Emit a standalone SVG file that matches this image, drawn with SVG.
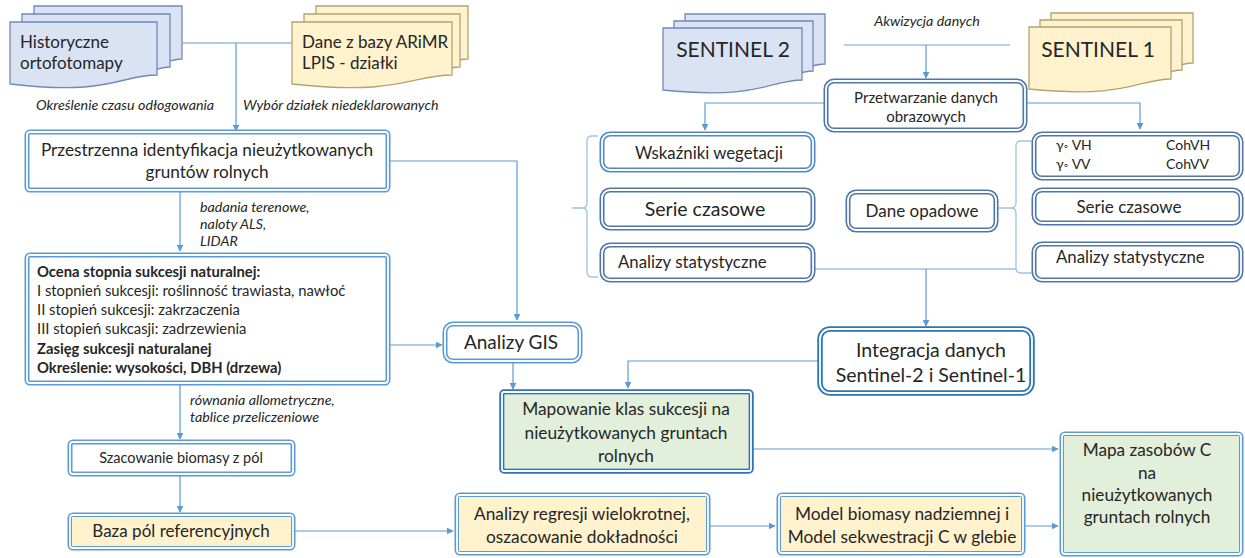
<svg xmlns="http://www.w3.org/2000/svg" width="1245" height="558" viewBox="0 0 1245 558">
<defs>
<marker id="arr" viewBox="0 0 10 10" refX="9" refY="5" markerWidth="7" markerHeight="7" markerUnits="userSpaceOnUse" orient="auto">
<path d="M0,0 L10,5 L0,10 Z" fill="#5b9bd5"/>
</marker>
<style>
text{font-family:Lato,"Liberation Sans",sans-serif;fill:#262626}
.it{font-style:italic;font-size:14.3px}
.c{text-anchor:middle}
.b{font-weight:bold}
.o1{fill:#fff;stroke:#5b9bd5;stroke-width:5}
.o2{fill:#fff;stroke:#4f76a8;stroke-width:5}
.o3{fill:#fff;stroke:#2e75b6;stroke-width:5.5}
.in{fill:none;stroke:#fff;stroke-width:1.8}
.con{fill:none;stroke:#5b9bd5;stroke-width:1.2}
.br{fill:none;stroke:#9dc3e6;stroke-width:1.3}
.dB{fill:#dae3f3;stroke:#7088bb;stroke-width:1.3}
.dY{fill:#fff2cc;stroke:#b3a370;stroke-width:1.3}
</style>
</defs>

<g id="connectors">
<path class="con" d="M183,43 H292"/>
<path class="con" d="M236,43 V131" marker-end="url(#arr)"/>
<path class="con" d="M180,192 V251" marker-end="url(#arr)"/>
<path class="con" d="M390,161 H517 V320" marker-end="url(#arr)"/>
<path class="con" d="M390,345 H442" marker-end="url(#arr)"/>
<path class="con" d="M513,363 V389" marker-end="url(#arr)"/>
<path class="con" d="M180,385 V439" marker-end="url(#arr)"/>
<path class="con" d="M180,476 V512" marker-end="url(#arr)"/>
<path class="con" d="M295,531 H453" marker-end="url(#arr)"/>
<path class="con" d="M710,526 H775" marker-end="url(#arr)"/>
<path class="con" d="M1025,526 H1058" marker-end="url(#arr)"/>
<path class="con" d="M753,449 H1058" marker-end="url(#arr)"/>
<path class="con" d="M818,361 H628 V388" marker-end="url(#arr)"/>
<path class="br" d="M844,45 H1010"/>
<path class="con" d="M926,45 V78" marker-end="url(#arr)"/>
<path class="con" d="M824,103 H705 V130" marker-end="url(#arr)"/>
<path class="con" d="M1027,103 H1140 V129" marker-end="url(#arr)"/>
<path class="br" d="M815,269 H1016"/>
<path class="con" d="M926,269 V326" marker-end="url(#arr)"/>
<path class="br" d="M598,136 H592 Q587,136 587,141 V203 Q587,208 582,208 H572 M582,208 Q587,208 587,213 V272 Q587,277 592,277 H598"/>
<path class="br" d="M1032,141 H1021 Q1016,141 1016,146 V203 Q1016,208 1011,208 H997 M1011,208 Q1016,208 1016,213 V268 Q1016,273 1021,273 H1032"/>
</g>

<g id="hist">
<path class="dB" d="M34,6 H182 V59 C158,59 158,79 34,71 Z"/>
<path class="dB" d="M22,14 H170 V67 C146,67 146,87 22,79 Z"/>
<path class="dB" d="M10,22 H157 V75 C120,75 110,96 10,84 Z"/>
<text x="20" y="48" font-size="17">Historyczne</text>
<text x="20" y="69" font-size="17">ortofotomapy</text>
</g>

<g id="arimr">
<path class="dY" d="M316,6 H468 V59 C440,59 440,79 316,71 Z"/>
<path class="dY" d="M304,14 H460 V67 C432,67 432,87 304,79 Z"/>
<path class="dY" d="M292,22 H452 V75 C412,75 400,96 292,84 Z"/>
<text x="302" y="48" font-size="17">Dane z bazy ARiMR</text>
<text x="302" y="69" font-size="17">LPIS - działki</text>
</g>

<g id="s2">
<path class="dB" d="M685,14 H825 V64 C800,64 800,84 685,76 Z"/>
<path class="dB" d="M674,21 H813 V71 C788,71 788,91 674,83 Z"/>
<path class="dB" d="M663,28 H802 V80 C770,80 760,100 663,90 Z"/>
<text class="c" x="733" y="57" font-size="21">SENTINEL 2</text>
</g>

<g id="s1">
<path class="dY" d="M1051,13 H1193 V63 C1168,63 1168,83 1051,75 Z"/>
<path class="dY" d="M1040,20 H1182 V70 C1157,70 1157,90 1040,82 Z"/>
<path class="dY" d="M1029,27 H1171 V79 C1138,79 1128,99 1029,89 Z"/>
<text class="c" x="1098" y="57" font-size="21">SENTINEL 1</text>
</g>

<g id="labels">
<text class="it" x="36" y="110">Określenie czasu odłogowania</text>
<text class="it" x="243" y="110">Wybór działek niedeklarowanych</text>
<text class="it c" x="927" y="26" font-size="15.5">Akwizycja danych</text>
<text class="it" x="200" y="212">badania terenowe,</text>
<text class="it" x="200" y="229">naloty ALS,</text>
<text class="it" x="200" y="246">LIDAR</text>
<text class="it" x="190" y="405">równania allometryczne,</text>
<text class="it" x="190" y="422">tablice przeliczeniowe</text>
</g>

<g id="przestrzenna">
<rect class="o1" x="27" y="132" width="361" height="58" rx="3"/>
<rect class="in" x="27" y="132" width="361" height="58" rx="3"/>
<text class="c" x="207" y="156" font-size="17.2">Przestrzenna identyfikacja nieużytkowanych</text>
<text class="c" x="207" y="178" font-size="17.2">gruntów rolnych</text>
</g>

<g id="ocena">
<rect class="o1" x="27" y="255" width="361" height="128" rx="3"/>
<rect class="in" x="27" y="255" width="361" height="128" rx="3"/>
<text x="37" y="277" font-size="14.8" class="b">Ocena stopnia sukcesji naturalnej:</text>
<text x="37" y="296" font-size="14.8">I stopnień sukcesji: roślinność trawiasta, nawłoć</text>
<text x="37" y="315" font-size="14.8">II stopień sukcesji: zakrzaczenia</text>
<text x="37" y="334" font-size="14.8">III stopień sukcasji: zadrzewienia</text>
<text x="37" y="354" font-size="14.8" class="b">Zasięg sukcesji naturalanej</text>
<text x="37" y="373" font-size="14.8" class="b">Określenie: wysokości, DBH (drzewa)</text>
</g>

<g id="szacowanie">
<rect class="o1" x="70" y="442" width="223" height="32" rx="3"/>
<rect class="in" x="70" y="442" width="223" height="32" rx="3"/>
<text class="c" x="181" y="463" font-size="14.5">Szacowanie biomasy z pól</text>
</g>

<g id="baza">
<rect class="o1" x="70" y="515" width="223" height="33" rx="3"/>
<rect x="72" y="517" width="219" height="29" fill="#fff2cc"/>
<rect class="in" x="70" y="515" width="223" height="33" rx="3"/>
<text class="c" x="181" y="537" font-size="17">Baza pól referencyjnych</text>
</g>

<g id="gis">
<rect class="o1" x="445" y="324" width="135" height="37" rx="8"/>
<rect class="in" x="445" y="324" width="135" height="37" rx="8"/>
<text class="c" x="511" y="349" font-size="19">Analizy GIS</text>
</g>

<g id="mapowanie">
<rect class="o3" x="502" y="392" width="249" height="79" rx="2"/>
<rect x="504.5" y="394.5" width="244" height="74" fill="#e2efda"/>
<rect class="in" x="502" y="392" width="249" height="79" rx="2"/>
<text class="c" x="626" y="415" font-size="17.3">Mapowanie klas sukcesji na</text>
<text class="c" x="626" y="439" font-size="17.3">nieużytkowanych gruntach</text>
<text class="c" x="626" y="462" font-size="17.3">rolnych</text>
</g>

<g id="integracja">
<rect class="o3" x="820" y="329" width="212" height="64" rx="10"/>
<rect class="in" x="820" y="329" width="212" height="64" rx="10"/>
<text class="c" x="931" y="357" font-size="19.5">Integracja danych</text>
<text class="c" x="931" y="382" font-size="19.5">Sentinel-2 i Sentinel-1</text>
</g>

<g id="przetwarzanie">
<rect class="o2" x="826" y="81" width="199" height="49" rx="8"/>
<rect class="in" x="826" y="81" width="199" height="49" rx="8"/>
<text class="c" x="926" y="103" font-size="15">Przetwarzanie danych</text>
<text class="c" x="926" y="122" font-size="15">obrazowych</text>
</g>

<g id="wskazniki">
<rect class="o1" x="602" y="134" width="211" height="36" rx="8" style="stroke:#4f88c6"/>
<rect class="in" x="602" y="134" width="211" height="36" rx="8"/>
<text class="c" x="709" y="159" font-size="16.8">Wskaźniki wegetacji</text>
</g>

<g id="serieL">
<rect class="o2" x="602" y="190" width="211" height="38" rx="8"/>
<rect class="in" x="602" y="190" width="211" height="38" rx="8"/>
<text class="c" x="705" y="216" font-size="19.5">Serie czasowe</text>
</g>

<g id="analizyL">
<rect class="o2" x="602" y="245" width="211" height="35" rx="8"/>
<rect class="in" x="602" y="245" width="211" height="35" rx="8"/>
<text x="618" y="268" font-size="16.8">Analizy statystyczne</text>
</g>

<g id="opady">
<rect class="o2" x="848" y="192" width="148" height="38" rx="8"/>
<rect class="in" x="848" y="192" width="148" height="38" rx="8"/>
<text class="c" x="922" y="217" font-size="17">Dane opadowe</text>
</g>

<g id="gamma">
<rect class="o2" x="1034" y="134" width="207" height="44" rx="8"/>
<rect class="in" x="1034" y="134" width="207" height="44" rx="8"/>
<text x="1056" y="150" font-size="14">γ<tspan font-size="11">◦</tspan> VH</text>
<text x="1056" y="169" font-size="14">γ<tspan font-size="11">◦</tspan> VV</text>
<text x="1166" y="150" font-size="14">CohVH</text>
<text x="1166" y="169" font-size="14">CohVV</text>
</g>

<g id="serieR">
<rect class="o2" x="1034" y="190" width="207" height="33" rx="8"/>
<rect class="in" x="1034" y="190" width="207" height="33" rx="8"/>
<text class="c" x="1129" y="213" font-size="17">Serie czasowe</text>
</g>

<g id="analizyR">
<rect class="o2" x="1034" y="244" width="207" height="36" rx="8"/>
<rect class="in" x="1034" y="244" width="207" height="36" rx="8"/>
<text x="1056" y="263" font-size="16.8">Analizy statystyczne</text>
</g>

<g id="regresja">
<rect class="o1" x="457" y="495" width="251" height="58" rx="3"/>
<rect x="459" y="497" width="247" height="54" fill="#fff2cc"/>
<rect class="in" x="457" y="495" width="251" height="58" rx="3"/>
<text class="c" x="582" y="520" font-size="17.3">Analizy regresji wielokrotnej,</text>
<text class="c" x="582" y="543" font-size="17.3">oszacowanie dokładności</text>
</g>

<g id="model">
<rect class="o1" x="779" y="495" width="244" height="58" rx="3"/>
<rect x="781" y="497" width="240" height="54" fill="#fff2cc"/>
<rect class="in" x="779" y="495" width="244" height="58" rx="3"/>
<text class="c" x="902" y="520" font-size="17.3">Model biomasy nadziemnej i</text>
<text class="c" x="902" y="543" font-size="17.3">Model sekwestracji C w glebie</text>
</g>

<g id="mapa">
<rect class="o1" x="1062" y="434" width="179" height="120" rx="3"/>
<rect x="1064" y="436" width="175" height="116" fill="#e2efda"/>
<rect class="in" x="1062" y="434" width="179" height="120" rx="3"/>
<text class="c" x="1147" y="456" font-size="17.2">Mapa zasobów C</text>
<text class="c" x="1147" y="479" font-size="17.2">na</text>
<text class="c" x="1147" y="501" font-size="17.2">nieużytkowanych</text>
<text class="c" x="1147" y="523" font-size="17.2">gruntach rolnych</text>
</g>
</svg>
